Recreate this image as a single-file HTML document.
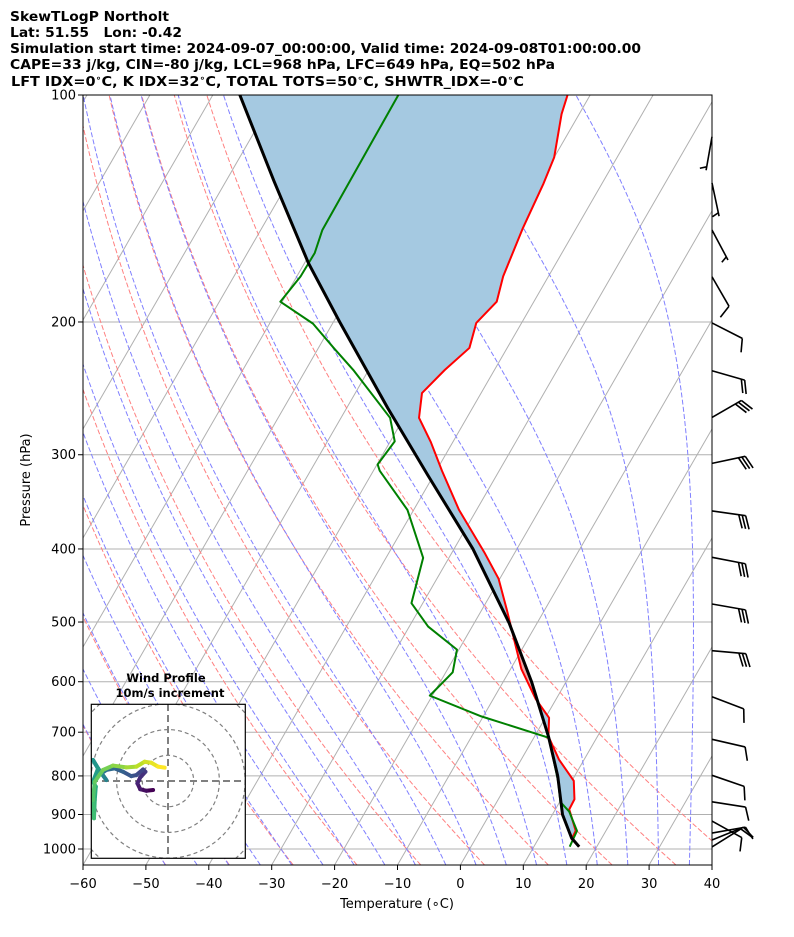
<!DOCTYPE html>
<html><head><meta charset="utf-8"><style>
html,body{margin:0;padding:0;background:#fff;}
svg{display:block;font-family:"DejaVu Sans","Liberation Sans",sans-serif;}
</style></head><body>
<svg id="chart" width="794" height="937" viewBox="0 0 794 937" xmlns="http://www.w3.org/2000/svg">
<defs>
<clipPath id="plotclip"><rect x="83" y="95" width="629" height="770"/></clipPath>
<clipPath id="hodoclip"><rect x="91.3" y="704.3" width="154" height="154"/></clipPath>
</defs>
<rect x="0" y="0" width="794" height="937" fill="#fff"/>
<g font-weight="bold" font-size="13.5" fill="#000" style="white-space:pre">
<text x="10" y="21" textLength="159" lengthAdjust="spacingAndGlyphs">SkewTLogP Northolt</text>
<text x="10" y="37" xml:space="preserve" textLength="172" lengthAdjust="spacingAndGlyphs">Lat: 51.55   Lon: -0.42</text>
<text x="10" y="53" textLength="631" lengthAdjust="spacingAndGlyphs">Simulation start time: 2024-09-07_00:00:00, Valid time: 2024-09-08T01:00:00.00</text>
<text x="10" y="69" textLength="545" lengthAdjust="spacingAndGlyphs">CAPE=33 j/kg, CIN=-80 j/kg, LCL=968 hPa, LFC=649 hPa, EQ=502 hPa</text>
<text x="11" y="86" textLength="513" lengthAdjust="spacingAndGlyphs">LFT IDX=0<tspan font-size="9" dy="-5">∘</tspan><tspan dy="5">C, K IDX=32</tspan><tspan font-size="9" dy="-5">∘</tspan><tspan dy="5">C, TOTAL TOTS=50</tspan><tspan font-size="9" dy="-5">∘</tspan><tspan dy="5">C, SHWTR_IDX=-0</tspan><tspan font-size="9" dy="-5">∘</tspan><tspan dy="5">C</tspan></text>
</g>
<g id="bg" clip-path="url(#plotclip)"></g>
<g id="fills" clip-path="url(#plotclip)"></g>
<g id="profiles" clip-path="url(#plotclip)"></g>
<g id="axes"></g>
<g id="barbs"></g>
<g id="hodo"></g>
</svg>
<script>
// ---- data ----
const tempP = [993,970,946,886,859,812,761,709,670,632,577,482,438,404,355,315,288.6,268,248.5,231.6,216.5,200.6,188,174,150,131,121,106,100];
const tempT = [17.2,15.3,15.2,12.2,12.1,10.3,6.0,2.2,0.6,-3.3,-8.3,-16,-20.2,-24.9,-32.8,-39.1,-43.5,-47.6,-49.4,-47.9,-46,-47.2,-45.9,-47.2,-48.5,-49.3,-50,-52.8,-53.6];
const dewP = [993,946,892,866,816,712,667,626,583,544,507,472,411,355,315,309,288,268,232,217,201,188,174,162,151,115,100];
const dewT = [15.7,15.4,12.4,10.1,8.0,2.4,-10.3,-20.4,-18.9,-20.3,-27,-31.8,-34.1,-41,-49,-49.9,-49.3,-52.2,-62.3,-67.4,-73.1,-80.3,-79.4,-79.3,-80.2,-80.4,-80.5];
const parcelP = [993,967,900,800,709,600,502,400,319,260,200,167,130,100];
const parcelT = [17.2,15.2,11.6,7.3,2.2,-5.5,-14.4,-27,-41,-53.5,-69,-79.4,-92.4,-105.7];
const windP = [113.6,130.8,151,174.2,200.6,232.1,267.7,308,356.2,410.3,473.2,545.8,628.1,715.3,798.5,865.7,918.2,952.4,973,993.8];
const windDir = [190,168,152,150,117,106,60,78,98,101,100,95,111,103,109,99,119,80,68,58];
const windSpd = [5,5,5,10,10,20,30,30,30,30,30,30,10,10,10,10,10,10,10,10];
const hodoU = [-5.8,-8.4,-10.8,-11.9,-10.8,-8.8,-9.7,-12.3,-14.3,-17.5,-20.8,-24,-25.9,-24,-27.2,-29.2,-27.2,-29.2,-28.1,-28.5,-28.8,-29.2,-28.5,-25.3,-21.4,-16.2,-12.3,-9.1,-6.5,-3.9,-1.3];
const hodoV = [-3.5,-3.8,-3.2,-0.9,1.4,3.6,4.5,2.3,1.9,3.6,4.9,4.3,3,0.4,4.9,8.2,4.9,-0.3,-2.2,-7.4,-14.5,-7.4,-0.3,4.3,6,5.3,5.6,7.5,7.1,5.6,5.2];
const xTicks = [-60,-50,-40,-30,-20,-10,0,10,20,30,40];
const yTicks = [100,200,300,400,500,600,700,800,900,1000];

// ---- scales ----
const NS="http://www.w3.org/2000/svg";
function yP(p){return 95+754*Math.log10(p/100);}
function xT(t,p){return 460.4+6.29*t+0.577*(865-yP(p));}
function mk(tag,attrs,parent){const e=document.createElementNS(NS,tag);for(const k in attrs)e.setAttribute(k,attrs[k]);parent.appendChild(e);return e;}
const bg=document.getElementById('bg'),fills=document.getElementById('fills'),prof=document.getElementById('profiles'),axes=document.getElementById('axes'),barbs=document.getElementById('barbs'),hodo=document.getElementById('hodo');
function pts(arr){return arr.map(a=>a[0].toFixed(2)+','+a[1].toFixed(2)).join(' ');}
const pGrid=[];for(let p=1050;p>=99.9;p-=5)pGrid.push(p);

yTicks.forEach(p=>{const l=mk('line',{x1:83,x2:712,y1:yP(p),y2:yP(p),stroke:'#b0b0b0','stroke-width':1},bg);

});
for(let t=-200;t<=40;t+=10){const x0=460.4+6.29*t;const l=mk('line',{x1:x0,y1:865,x2:x0+0.577*770,y2:95,stroke:'#b0b0b0','stroke-width':1},bg);

}
for(let t0=-50;t0<=40;t0+=10){const th=t0+273.15;const a=pGrid.map(p=>[xT(th*Math.pow(p/1000,0.2857)-273.15,p),yP(p)]);
const l=mk('polyline',{points:pts(a),fill:'none',stroke:'#ff8080','stroke-width':1,'stroke-dasharray':'5,2.2'},bg);

}
function lapse(p,T){const Tc=T-273.15;const es=6.112*Math.exp(17.67*Tc/(Tc+243.5));const eps=0.622;const rs=eps*es/(p-es);const Rd=287.04,Lv=2.501e6,Cp=1005.7;
return (1/p)*(Rd*T+Lv*rs)/(Cp+Lv*Lv*rs*eps/(Rd*T*T));}
function moist(t0){const up=[],dn=[];let T=t0+273.15,p=1000,h=-5;up.push([p,T]);
while(p>100){const k1=lapse(p,T),k2=lapse(p+h/2,T+h/2*k1),k3=lapse(p+h/2,T+h/2*k2),k4=lapse(p+h,T+h*k3);T+=h/6*(k1+2*k2+2*k3+k4);p+=h;up.push([p,T]);}
T=t0+273.15;p=1000;h=5;while(p<1050){const k1=lapse(p,T),k2=lapse(p+h/2,T+h/2*k1),k3=lapse(p+h/2,T+h/2*k2),k4=lapse(p+h,T+h*k3);T+=h/6*(k1+2*k2+2*k3+k4);p+=h;dn.unshift([p,T]);}
return dn.concat(up).map(a=>[xT(a[1]-273.15,a[0]),yP(a[0])]);}
const mt=[];for(let t=-50;t<=35;t+=5)mt.push(t);
mt.forEach(t0=>{const l=mk('polyline',{points:pts(moist(t0)),fill:'none',stroke:'#8080ff','stroke-width':1,'stroke-dasharray':'5,2.2'},bg);

});

function interp(P,V,p){for(let i=0;i<P.length-1;i++){const a=P[i],b=P[i+1];if(p<=a&&p>=b){const f=(Math.log(p)-Math.log(a))/(Math.log(b)-Math.log(a));return V[i]+f*(V[i+1]-V[i]);}}return null;}
(function(){const grid=[];for(let p=993;p>=100;p-=1)grid.push(p);grid.push(100);
let seg=null,sign=0;const segs=[];
grid.forEach(p=>{const te=interp(tempP,tempT,p),tp=interp(parcelP,parcelT,p);if(te===null||tp===null)return;const s=tp<te?-1:1;
if(s!==sign){if(seg)segs.push({s:sign,pts:seg});seg=[];sign=s;}seg.push([p,te,tp]);});
if(seg)segs.push({s:sign,pts:seg});
segs.forEach(sg=>{const a=sg.pts.map(q=>[xT(q[1],q[0]),yP(q[0])]);const b=sg.pts.slice().reverse().map(q=>[xT(q[2],q[0]),yP(q[0])]);
const poly=mk('polygon',{points:pts(a.concat(b)),fill:sg.s<0?'rgb(165,201,225)':'rgb(238,169,169)',stroke:'none'},fills);

});})();

function prLine(P,T,color,w,name){const a=P.map((p,i)=>[xT(T[i],p),yP(p)]);const l=mk('polyline',{points:pts(a),fill:'none',stroke:color,'stroke-width':w,'stroke-linejoin':'round'},prof);

}
prLine(tempP,tempT,'#ff0000',2,'temperature-line');
prLine(dewP,dewT,'#008000',2,'dewpoint-line');
prLine(parcelP,parcelT,'#000000',3,'parcel-line');

const fr=mk('rect',{x:83,y:95,width:629,height:770,fill:'none',stroke:'#000','stroke-width':1},axes);


xTicks.forEach(t=>{const x=460.4+6.29*t;mk('line',{x1:x,x2:x,y1:865,y2:870,stroke:'#000'},axes);
const tx=mk('text',{x:x,y:888,'font-size':13,'text-anchor':'middle'},axes);tx.textContent=(t<0?'\u2212'+(-t):String(t));

});
yTicks.forEach(p=>{const y=yP(p);mk('line',{x1:78,x2:83,y1:y,y2:y,stroke:'#000'},axes);
const tx=mk('text',{x:76,y:y+4.5,'font-size':13,'text-anchor':'end'},axes);tx.textContent=String(p);

});
const xl=mk('text',{x:397,y:908,'font-size':13,'text-anchor':'middle'},axes);xl.textContent='Temperature (\u2218C)';


const yl=mk('text',{x:30,y:480,'font-size':13,'text-anchor':'middle',transform:'rotate(-90 30 480)'},axes);yl.textContent='Pressure (hPa)';



windP.forEach((p,i)=>{const th=windDir[i]*Math.PI/180;const dx=Math.sin(th),dy=-Math.cos(th);const bx=712,by=yP(p);const L=34;
const ex=bx+L*dx,ey=by+L*dy;const g=mk('g',{stroke:'#000','stroke-width':1.6,fill:'none'},barbs);


mk('line',{x1:bx,y1:by,x2:ex,y2:ey},g);
const ca=Math.cos(68*Math.PI/180),sa=Math.sin(68*Math.PI/180);const rx=dx*ca-dy*sa,ry=dx*sa+dy*ca;
let spd=windSpd[i];let full=Math.floor(spd/10),half=(spd%10)>=5?1:0;let s=0;
for(let k=0;k<full;k++){const px=ex-dx*s,py=ey-dy*s;mk('line',{x1:px,y1:py,x2:px+rx*14,y2:py+ry*14},g);s+=3.5;}
if(half){if(full===0)s=3.5;const px=ex-dx*s,py=ey-dy*s;mk('line',{x1:px,y1:py,x2:px+rx*7,y2:py+ry*7},g);}
});

(function(){const cx=168,cy=781,k=2.57;
const box=mk('rect',{x:91.3,y:704.3,width:154,height:154,fill:'#fff',stroke:'none'},hodo);


const t1=mk('text',{x:166,y:682,'font-size':11.5,'font-weight':'bold','text-anchor':'middle'},hodo);t1.textContent='Wind Profile';


const t2=mk('text',{x:170,y:697,'font-size':11.5,'font-weight':'bold','text-anchor':'middle'},hodo);t2.textContent='10m/s increment';


const g=mk('g',{'clip-path':'url(#hodoclip)'},hodo);
[10,20,30,40].forEach(r=>{const c=mk('circle',{cx:cx,cy:cy,r:r*k,fill:'none',stroke:'#808080','stroke-width':1.2,'stroke-dasharray':'4,3'},g);

});
mk('line',{x1:91,x2:246,y1:cy,y2:cy,stroke:'#808080','stroke-width':2,'stroke-dasharray':'7,4'},g);
mk('line',{x1:cx,x2:cx,y1:704,y2:859,stroke:'#808080','stroke-width':2,'stroke-dasharray':'7,4'},g);
const vir=[[68,1,84],[72,36,117],[65,68,135],[53,95,141],[42,120,142],[33,145,140],[34,168,132],[68,191,112],[122,209,81],[189,223,38],[253,231,37]];
function col(f){const x=f*(vir.length-1);const i=Math.min(Math.floor(x),vir.length-2);const r=x-i;const a=vir[i],b=vir[i+1];return 'rgb('+a.map((v,j)=>Math.round(v+(b[j]-v)*r)).join(',')+')';}
const n=hodoU.length;for(let i=0;i<n-1;i++){const s=mk('line',{x1:cx+hodoU[i]*k,y1:cy-hodoV[i]*k,x2:cx+hodoU[i+1]*k,y2:cy-hodoV[i+1]*k,stroke:col(i/(n-2)),'stroke-width':4,'stroke-linecap':'round'},g);

}
const fr=mk('rect',{x:91.3,y:704.3,width:154,height:154,fill:'none',stroke:'#000','stroke-width':1.2},hodo);

})();
</script>
</body></html>
